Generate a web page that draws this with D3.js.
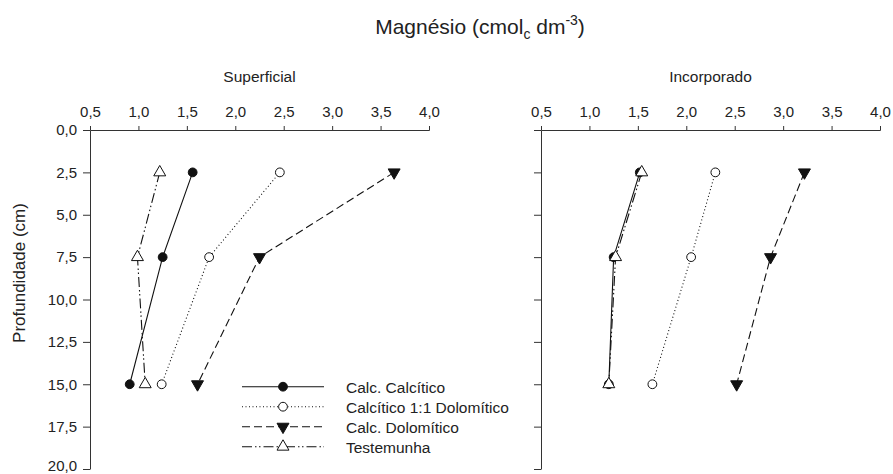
<!DOCTYPE html>
<html lang="pt">
<head>
    <meta charset="UTF-8">
    <title>Magnésio</title>
    <script src="https://d3js.org/d3.v7.min.js"></script>
    <style>
        body { margin: 0; background: #fff; }
        svg text { font-family: "Liberation Sans", Arial, sans-serif; fill: #222; }
    </style>
</head>
<body>
<div id="chart"></div>
<script>
    // profundidade (cm)
    var depths = [2.5, 7.5, 15.0];

    // Superficial
    var supCalcitico = [1.56, 1.25, 0.91];
    var supMisto = [2.46, 1.73, 1.24];
    var supDolomitico = [3.64, 2.25, 1.61];
    var supTestemunha = [1.22, 0.99, 1.07];

    // Incorporado
    var incCalcitico = [1.52, 1.25, 1.20];
    var incMisto = [2.30, 2.05, 1.65];
    var incDolomitico = [3.22, 2.87, 2.52];
    var incTestemunha = [1.54, 1.27, 1.20];

    var seriesNames = ["Calc. Calcítico", "Calcítico 1:1 Dolomítico", "Calc. Dolomítico", "Testemunha"];
    var xTicks = [0.5, 1.0, 1.5, 2.0, 2.5, 3.0, 3.5, 4.0];
    var yTicks = [0, 2.5, 5, 7.5, 10, 12.5, 15, 17.5, 20];

    // line style + marker for each series
    var styles = [
        {dash: null, marker: "circle", fill: "#111"},
        {dash: "1,2.5", marker: "circle", fill: "#fff"},
        {dash: "8,4", marker: "down", fill: "#111"},
        {dash: "10,3,1.5,2.5,1.5,3", marker: "up", fill: "#fff"}
    ];

    var width = 893, height = 474;
    var svg = d3.select("#chart").append("svg")
        .attr("width", width)
        .attr("height", height);

    var fmt = function (d) { return d3.format(".1f")(d).replace(".", ","); };

    var y = d3.scaleLinear().domain([0, 20]).range([130, 469]);

    // main title
    var title = svg.append("text")
        .attr("x", 480)
        .attr("y", 34)
        .attr("text-anchor", "middle")
        .style("font-size", "21px");
    title.append("tspan").text("Magnésio (cmol");
    title.append("tspan").attr("dy", 5).style("font-size", "14px").text("c");
    title.append("tspan").attr("dy", -5).text(" dm");
    title.append("tspan").attr("dy", -9).style("font-size", "14px").text("-3");
    title.append("tspan").attr("dy", 9).text(")");

    // y label
    svg.append("text")
        .attr("transform", "translate(25,273) rotate(-90)")
        .attr("text-anchor", "middle")
        .style("font-size", "17px")
        .text("Profundidade (cm)");

    function drawMarker(g, type, fill, cx, cy) {
        if (type === "circle") {
            g.append("circle")
                .attr("cx", cx).attr("cy", cy).attr("r", 4.4)
                .attr("fill", fill)
                .attr("stroke", "#111").attr("stroke-width", 1);
        } else {
            g.append("path")
                .attr("d", d3.symbol().type(d3.symbolTriangle).size(62)())
                .attr("transform", "translate(" + cx + "," + cy + ")" + (type === "down" ? " rotate(180)" : ""))
                .attr("fill", fill)
                .attr("stroke", "#111").attr("stroke-width", 1);
        }
    }

    function panel(x0, x1, name, data, showYLabels) {
        var x = d3.scaleLinear().domain([0.5, 4.0]).range([x0, x1]);
        var g = svg.append("g");

        g.append("text")
            .attr("x", (x0 + x1) / 2)
            .attr("y", 82)
            .attr("text-anchor", "middle")
            .style("font-size", "15.5px")
            .text(name);

        var xAxis = g.append("g")
            .attr("transform", "translate(0," + y(0) + ")")
            .call(d3.axisTop(x).tickValues(xTicks).tickFormat(fmt).tickSize(4).tickPadding(9));
        xAxis.select(".domain").attr("stroke", "#333");
        xAxis.selectAll(".tick line").attr("stroke", "#333");
        xAxis.selectAll("text").style("font-size", "15px").attr("fill", "#222");

        var yAxis = g.append("g")
            .attr("transform", "translate(" + x0 + ",0)")
            .call(d3.axisLeft(y).tickValues(yTicks)
                .tickFormat(showYLabels ? fmt : function () { return ""; })
                .tickSize(7).tickSizeOuter(0).tickPadding(6));
        yAxis.select(".domain").attr("stroke", "#333");
        yAxis.selectAll(".tick line").attr("stroke", "#333");
        yAxis.selectAll("text").style("font-size", "15px").attr("fill", "#222");
        // last label sits on the page edge, lift it a touch
        yAxis.selectAll("text").filter(function (d) { return d === 20; }).attr("dy", "0.1em");

        var line = d3.line()
            .x(function (d) { return x(d[0]); })
            .y(function (d) { return y(d[1]); });

        data.forEach(function (vals, i) {
            var pts = vals.map(function (v, j) { return [v, depths[j]]; });
            g.append("path")
                .datum(pts)
                .attr("d", line)
                .attr("fill", "none")
                .attr("stroke", "#111")
                .attr("stroke-width", 1.1)
                .attr("stroke-dasharray", styles[i].dash);
        });
        data.forEach(function (vals, i) {
            vals.forEach(function (v, j) {
                drawMarker(g, styles[i].marker, styles[i].fill, x(v), y(depths[j]));
            });
        });
    }

    panel(90, 429, "Superficial", [supCalcitico, supMisto, supDolomitico, supTestemunha], true);
    panel(541, 880, "Incorporado", [incCalcitico, incMisto, incDolomitico, incTestemunha], false);

    // legend
    var legend = svg.append("g");
    seriesNames.forEach(function (name, i) {
        var ly = 386.7 + i * 20;
        legend.append("line")
            .attr("x1", 242).attr("x2", 324)
            .attr("y1", ly).attr("y2", ly)
            .attr("stroke", "#111").attr("stroke-width", 1.1)
            .attr("stroke-dasharray", styles[i].dash);
        drawMarker(legend, styles[i].marker, styles[i].fill, 283, ly);
        legend.append("text")
            .attr("x", 346)
            .attr("y", ly + 6.5)
            .style("font-size", "15.5px")
            .text(name);
    });
</script>
</body>
</html>
